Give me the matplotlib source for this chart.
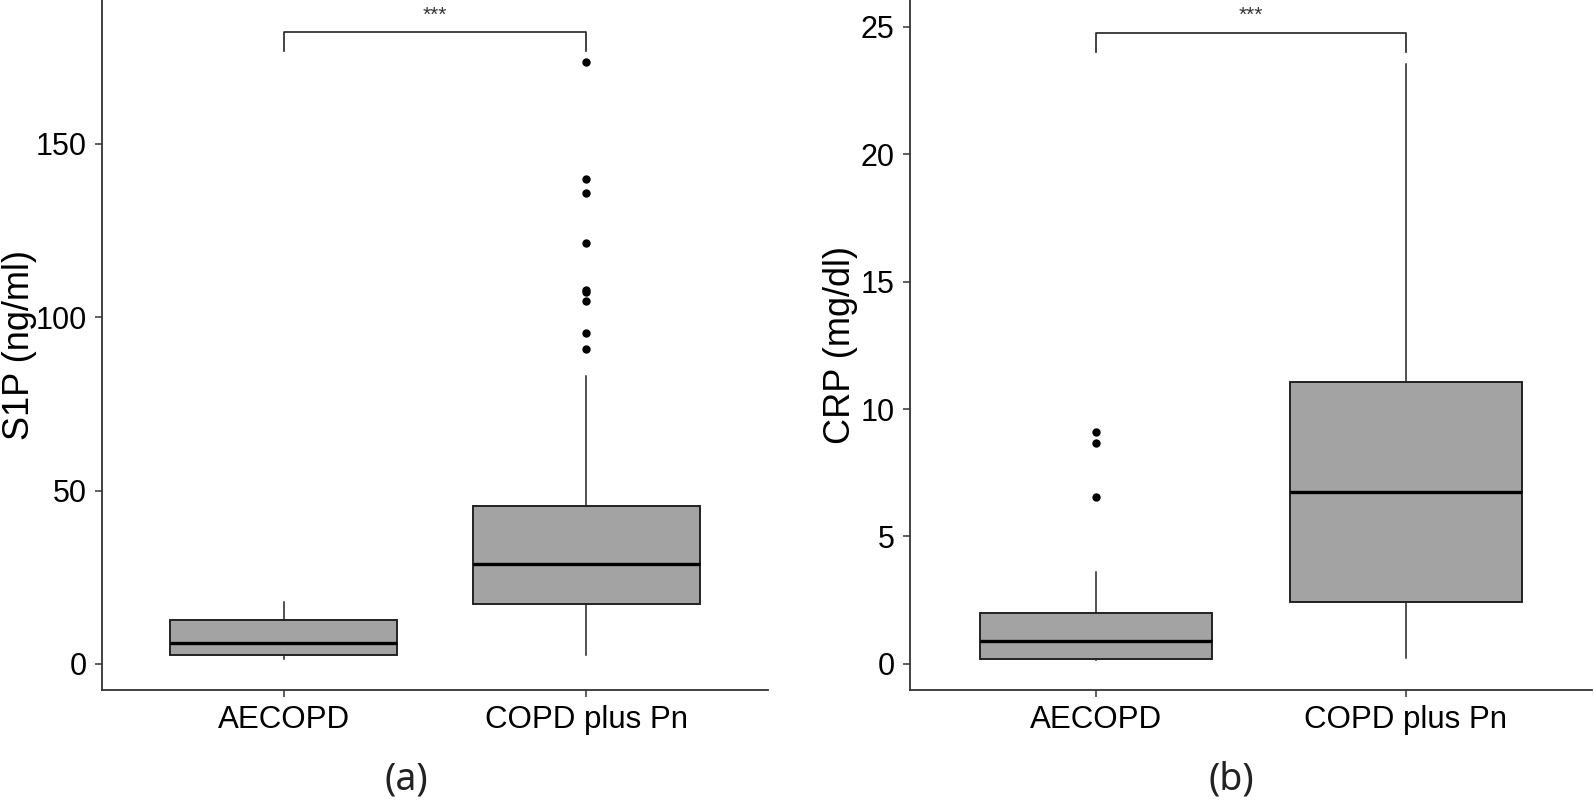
import matplotlib
matplotlib.use("Agg")
import matplotlib.pyplot as plt

# categories
groups = ["AECOPD", "COPD plus Pn"]

# S1P (ng/ml) box stats: low whisker, Q1, median, Q3, high whisker
s1p_low = [1.4, 2.7]
s1p_q1 = [2.6, 17.3]
s1p_med = [6.0, 28.8]
s1p_q3 = [12.7, 45.6]
s1p_high = [17.9, 83.0]
s1p_outliers = [[], [173.6, 139.9, 135.8, 121.5, 107.9, 107.3, 104.8, 95.5, 90.9]]

# CRP (mg/dl) box stats
crp_low = [0.14, 0.25]
crp_q1 = [0.21, 2.42]
crp_med = [0.92, 6.75]
crp_q3 = [2.0, 11.07]
crp_high = [3.61, 23.54]
crp_outliers = [[9.09, 8.67, 6.53], []]

# significance brackets
s1p_bracket = (182.3, 176.8)
crp_bracket = (24.76, 24.0)
sig_label = "***"

TICK_FONT = "Liberation Sans"
FILL = "#a3a3a3"


def make_stats(low, q1, med, q3, high, fliers):
    stats = []
    for i in range(len(groups)):
        stats.append({
            "whislo": low[i], "q1": q1[i], "med": med[i],
            "q3": q3[i], "whishi": high[i], "fliers": fliers[i],
        })
    return stats


def draw_panel(ax, stats, ylabel, yticks, ylim, bracket, star_y, label_x):
    ax.bxp(
        stats, positions=[1, 2], widths=0.75, showcaps=False, patch_artist=True,
        boxprops=dict(facecolor=FILL, edgecolor="#222222", linewidth=1.4),
        medianprops=dict(color="black", linewidth=2.4),
        whiskerprops=dict(color="#222222", linewidth=1.1),
        flierprops=dict(marker="o", markerfacecolor="black", markeredgecolor="black",
                        markersize=5, linestyle="none"),
    )
    top, foot = bracket
    ax.plot([1, 1, 2, 2], [foot, top, top, foot], color="#222222", linewidth=1.2)
    ax.text(1.5, star_y, sig_label, ha="center", va="center", fontsize=15,
            color="#333333", family=TICK_FONT)

    ax.set_xlim(0.4, 2.6)
    ax.set_ylim(*ylim)
    ax.set_xticks([1, 2])
    ax.set_xticklabels(groups, fontsize=22.5, family=TICK_FONT)
    ax.set_yticks(yticks)
    ax.set_yticklabels([str(t) for t in yticks], fontsize=22, family=TICK_FONT)
    ax.set_ylabel(ylabel, fontsize=26, family=TICK_FONT)
    # label_x is the right edge of the rotated label
    ax.yaxis.set_label_coords(label_x, 0.5)
    for side in ["top", "right"]:
        ax.spines[side].set_visible(False)
    for side in ["left", "bottom"]:
        ax.spines[side].set_color("#333333")
        ax.spines[side].set_linewidth(1.3)
    ax.tick_params(axis="both", direction="out", length=5, width=1.1, color="#333333",
                   pad=6, labelcolor="black")


fig = plt.figure(figsize=(15.94, 8.01), dpi=100)
ax1 = fig.add_axes([102 / 1594, 111 / 801, 666 / 1594, 690 / 801])
ax2 = fig.add_axes([910 / 1594, 111 / 801, 682 / 1594, 690 / 801])

draw_panel(ax1, make_stats(s1p_low, s1p_q1, s1p_med, s1p_q3, s1p_high, s1p_outliers),
           "S1P (ng/ml)", [0, 50, 100, 150], (-7.5, 191.5), s1p_bracket, 187.2,
           (37 - 102) / 666)
draw_panel(ax2, make_stats(crp_low, crp_q1, crp_med, crp_q3, crp_high, crp_outliers),
           "CRP (mg/dl)", [0, 5, 10, 15, 20, 25], (-1.02, 26.04), crp_bracket, 25.45,
           (858 - 910) / 682)

fig.text(406 / 1594, 1 - 779 / 801, "(a)", ha="center", va="center", fontsize=27,
         family="Noto Sans", color="#222222")
fig.text(1231 / 1594, 1 - 779 / 801, "(b)", ha="center", va="center", fontsize=27,
         family="Noto Sans", color="#222222")

fig.savefig("out.png", dpi=100)
